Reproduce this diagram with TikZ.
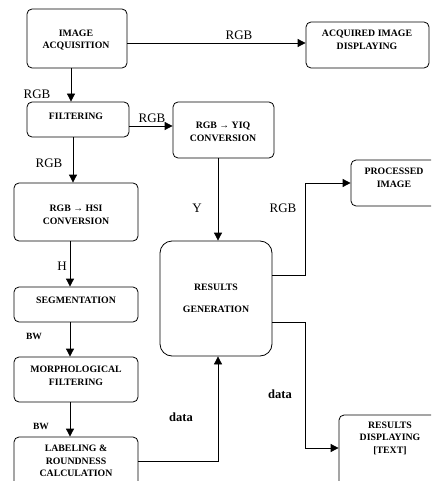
\documentclass[tikz,border=0pt]{standalone}
\usepackage{fontspec}
\setmainfont{Liberation Serif}
\usetikzlibrary{arrows.meta}
\begin{document}
\begin{tikzpicture}[x=1pt,y=-1pt,
  box/.style={draw=black,line width=0.8pt,rounded corners=5pt,inner sep=0pt},
  btxt/.style={font=\fontsize{9.8}{12.5}\selectfont\bfseries,align=center,inner sep=0pt},
  lbl/.style={font=\fontsize{13}{15}\selectfont,inner sep=0pt},
  lblb/.style={font=\fontsize{12.5}{15}\selectfont\bfseries,inner sep=0pt},
  bwl/.style={font=\fontsize{9.5}{11}\selectfont\bfseries,inner sep=0pt},
  arr/.style={draw=black,line width=0.8pt,-{Triangle[length=8pt,width=8pt]}}]
\useasboundingbox (0,0) rectangle (431,481);
\clip (0,0) rectangle (431,481);
% boxes
\node[box,minimum width=100pt,minimum height=59pt] (acq) at (77,38.5) {};
\node[box,minimum width=123pt,minimum height=46pt] (disp) at (367.5,45) {};
\node[box,minimum width=102pt,minimum height=35pt] (filt) at (78,119.5) {};
\node[box,minimum width=101pt,minimum height=56pt] (yiq) at (223.5,130) {};
\node[box,minimum width=124pt,minimum height=58pt] (hsi) at (76,212) {};
\node[box,minimum width=124pt,minimum height=35pt] (seg) at (76,304.5) {};
\node[box,minimum width=124pt,minimum height=45pt] (morph) at (76,379.5) {};
\node[box,minimum width=124pt,minimum height=60pt] (lab) at (76,467) {};
\node[box,rounded corners=12pt,minimum width=112pt,minimum height=115pt] (res) at (216,298.5) {};
\node[box,minimum width=86pt,minimum height=46pt] (proc) at (394,183) {};
\node[box,minimum width=102pt,minimum height=75pt] (rdisp) at (390,452.5) {};
% box texts
\node[btxt] (acqt) at (76,40) {IMAGE\\ACQUISITION};
\node[btxt] (dispt) at (367,40) {ACQUIRED IMAGE\\DISPLAYING};
\node[btxt] (filtt) at (76,116) {FILTERING};
\node[btxt] (yiqt) at (223,132) {RGB → YIQ\\CONVERSION};
\node[btxt] (hsit) at (76,215) {RGB → HSI\\CONVERSION};
\node[btxt] (segt) at (76,300) {SEGMENTATION};
\node[btxt] (morpht) at (76,376) {MORPHOLOGICAL\\FILTERING};
\node[btxt] (labt) at (76,461) {LABELING \&\\ROUNDNESS\\CALCULATION};
\node[btxt] (rest) at (216,298.5) {RESULTS\\[10pt]GENERATION};
\node[btxt] (proct) at (394,178) {PROCESSED\\IMAGE};
\node[btxt] (rdispt) at (390,438) {RESULTS\\DISPLAYING\\{[TEXT]}};
% connectors
\draw[arr] ([xshift=-6pt]acq.south) -- ([xshift=-7pt]filt.north);
\draw[arr] ([yshift=-4.5pt]acq.east) -- ([yshift=-4.5pt]acq.east -| disp.west);
\draw[arr] ([yshift=-6.5pt]filt.east) -- ([yshift=-6.5pt]filt.east -| yiq.west);
\draw[arr] ([xshift=-5pt]filt.south) -- ([xshift=-5pt]filt.south |- hsi.north);
\draw[arr] ([xshift=-6pt]hsi.south) -- ([xshift=-6pt]seg.north);
\draw[arr] ([xshift=-6pt]seg.south) -- ([xshift=-6pt]morph.north);
\draw[arr] ([xshift=-6pt]morph.south) -- ([xshift=-6pt]lab.north);
\draw[arr] ([yshift=6pt]lab.east) -| ([xshift=2pt]res.south);
\draw[arr] ([xshift=-5.5pt]yiq.south) -- ([xshift=-5.5pt]yiq.south |- res.north);
\draw[arr] ([yshift=23.5pt]res.east) -- ++(33,0) |- (proc.west);
\draw[arr] ([yshift=-23.5pt]res.east) -- ++(33,0) |- ([yshift=4.5pt]rdisp.west);
% labels
\node[lbl] (l1) at (37,94) {RGB};
\node[lbl] (l2) at (239,35) {RGB};
\node[lbl] (l3) at (152,118) {RGB};
\node[lbl] (l4) at (49,163) {RGB};
\node[lbl] (l5) at (197,208) {Y};
\node[lbl] (l6) at (62,266) {H};
\node[bwl] (l7) at (34,336) {BW};
\node[bwl] (l8) at (41,426) {BW};
\node[lblb] (l9) at (181,417) {data};
\node[lbl] (l10) at (283,208) {RGB};
\node[lblb] (l11) at (280,394) {data};
\end{tikzpicture}
\end{document}
